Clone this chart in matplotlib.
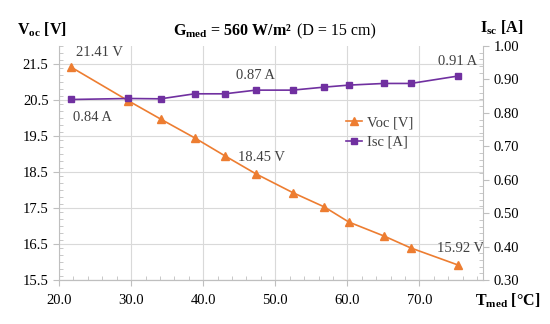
import matplotlib.pyplot as plt
from matplotlib.ticker import MultipleLocator, FormatStrFormatter

plt.rcParams['font.family'] = ['Liberation Serif', 'DejaVu Serif']
plt.rcParams['mathtext.fontset'] = 'custom'
plt.rcParams['mathtext.rm'] = 'Liberation Serif'
plt.rcParams['mathtext.bf'] = 'Liberation Serif:bold'

# Data
t_med = [21.7, 29.6, 34.1, 38.8, 43.0, 47.3, 52.4, 56.8, 60.2, 65.1, 68.8, 75.3]
voc = [21.41, 20.48, 19.97, 19.45, 18.95, 18.45, 17.93, 17.53, 17.11, 16.72, 16.39, 15.92]
isc = [0.84, 0.843, 0.842, 0.857, 0.857, 0.868, 0.868, 0.877, 0.883, 0.888, 0.888, 0.91]

orange = '#ED7D31'
purple = '#7030A0'
grid_c = '#d9d9d9'
axis_c = '#bfbfbf'
txt_c = '#404040'

fig = plt.figure(figsize=(5.5, 3.24), dpi=100)
ax = fig.add_axes([0.1073, 0.1358, 0.7707, 0.7222])
ax2 = ax.twinx()

l1, = ax.plot(t_med, voc, color=orange, marker='^', markersize=5.5, lw=1.2, label='Voc [V]')
l2, = ax2.plot(t_med, isc, color=purple, marker='s', markersize=5, lw=1.2, label='Isc [A]')

ax.set_xlim(20, 78.8)
ax.set_ylim(15.5, 22.0)
ax.set_yticks([15.5, 16.5, 17.5, 18.5, 19.5, 20.5, 21.5])
ax.yaxis.set_minor_locator(MultipleLocator(0.2))
ax.set_xticks([20, 30, 40, 50, 60, 70])
ax.xaxis.set_minor_locator(MultipleLocator(2))
ax.xaxis.set_major_formatter(FormatStrFormatter('%.1f'))
ax.yaxis.set_major_formatter(FormatStrFormatter('%.1f'))

ax2.set_ylim(0.3, 1.0)
ax2.yaxis.set_major_locator(MultipleLocator(0.1))
ax2.yaxis.set_minor_locator(MultipleLocator(0.02))
ax2.yaxis.set_major_formatter(FormatStrFormatter('%.2f'))

ax.grid(True, which='major', color=grid_c, lw=0.8)
ax.set_axisbelow(True)

for a in (ax, ax2):
    a.spines['top'].set_visible(False)
    for s in ('left', 'right', 'bottom'):
        a.spines[s].set_color(axis_c)
    a.tick_params(which='major', direction='out', length=4, color=axis_c,
                  labelsize=10.5, labelcolor='black')
    a.tick_params(which='minor', direction='in', length=3, color=axis_c)
ax.tick_params(axis='x', pad=6)
ax2.spines['left'].set_visible(False)
ax.spines['right'].set_visible(False)

# point labels
ann = dict(fontsize=10.5, color=txt_c, textcoords='offset points')
ax.annotate('21.41 V', (t_med[0], voc[0]), xytext=(3.6, 10.8), ha='left', va='center', **ann)
ax.annotate('18.45 V', (t_med[5], voc[5]), xytext=(-13, 11.5), ha='left', va='center', **ann)
ax.annotate('15.92 V', (t_med[-1], voc[-1]), xytext=(-15, 11.5), ha='left', va='center', **ann)
ax2.annotate('0.84 A', (t_med[0], isc[0]), xytext=(1.4, -13), ha='left', va='center', **ann)
ax2.annotate('0.87 A', (t_med[5], isc[5]), xytext=(-14.4, 10.8), ha='left', va='center', **ann)
ax2.annotate('0.91 A', (t_med[-1], isc[-1]), xytext=(-14, 10.6), ha='left', va='center', **ann)

# titles and axis labels
fig.text(292 / 550, 1 - 31 / 324, r'G$_{\mathbf{med}}$ = 560 W/m²', ha='right', va='center',
         fontsize=11.5, fontweight='bold')
fig.text(297 / 550, 1 - 31 / 324, '(D = 15 cm)', ha='left', va='center', fontsize=11.5)
fig.text(17 / 550, 1 - 30 / 324, r'V$_{\mathbf{oc}}$ [V]', ha='left', va='center',
         fontsize=11.5, fontweight='bold')
fig.text(480 / 550, 1 - 28 / 324, r'I$_{\mathbf{sc}}$ [A]', ha='left', va='center',
         fontsize=11.5, fontweight='bold')
fig.text(475 / 550, 1 - 301 / 324, r'T$_{\mathbf{med}}$ [°C]', ha='left', va='center',
         fontsize=11.5, fontweight='bold')

leg = ax.legend(handles=[l1, l2], loc='upper left', bbox_to_anchor=(346 / 550, 1 - 116 / 324),
                bbox_transform=fig.transFigure, frameon=False, fontsize=10.5,
                handlelength=1.1, handletextpad=0.35, borderpad=0, labelspacing=0.45,
                borderaxespad=0)
for t in leg.get_texts():
    t.set_color(txt_c)

fig.savefig('out.png', dpi=100)
